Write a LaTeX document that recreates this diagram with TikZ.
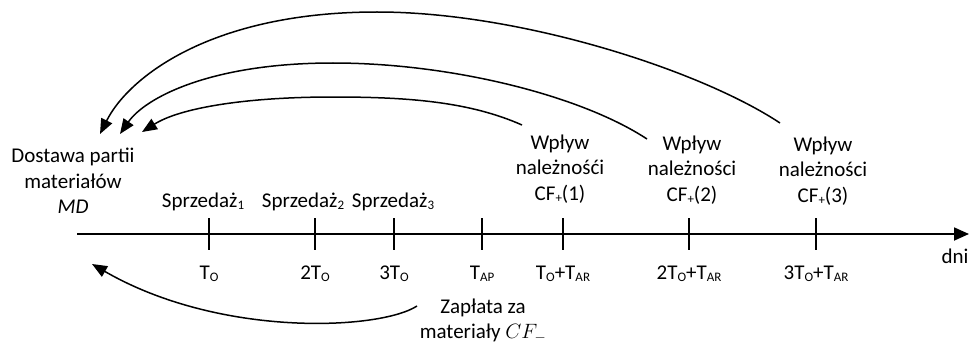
\documentclass[tikz,border=0pt]{standalone}
\usepackage{fontspec}
\setmainfont{Carlito}
\usetikzlibrary{arrows.meta}
\newcommand\lowsub[1]{\raisebox{-2.2pt}{\fontsize{13}{13}\selectfont #1}}
\begin{document}
\begin{tikzpicture}[x=1pt,y=-1pt,
  lbl/.style={inner sep=0pt,align=center,font=\fontsize{21}{25.5}\selectfont},
  arc/.style={line width=1.5pt,-{Triangle[length=15pt,width=12pt]}},
  tick/.style={line width=1.6pt}]
\useasboundingbox (0,0) rectangle (972,345);
% axis
\coordinate (ax0) at (77,234);
\coordinate (ax1) at (969,234);
\draw[line width=1.8pt,-{Triangle[length=15pt,width=13pt]}] (ax0) -- (ax1);
% ticks
\foreach \n/\x in {t1/209,t2/315,t3/394,tap/482,r1/563,r2/689,r3/816}{
  \coordinate (\n a) at (\x,218);
  \coordinate (\n b) at (\x,250);
  \draw[tick] (\n a) -- (\n b);
}
% tick labels
\node[lbl,anchor=base] (lt1) at (209,279) {T\lowsub{O}};
\node[lbl,anchor=base] (lt2) at (315,279) {2T\lowsub{O}};
\node[lbl,anchor=base] (lt3) at (394,279) {3T\lowsub{O}};
\node[lbl,anchor=base] (ltap) at (482,279) {T\lowsub{AP}};
\node[lbl,anchor=base] (lr1) at (563,279) {T\lowsub{O}+T\lowsub{AR}};
\node[lbl,anchor=base] (lr2) at (689,279) {2T\lowsub{O}+T\lowsub{AR}};
\node[lbl,anchor=base] (lr3) at (816,279) {3T\lowsub{O}+T\lowsub{AR}};
\node[lbl,anchor=base] (dni) at (955,263) {dni};
% sales
\node[lbl,anchor=base] (s1) at (203,207) {Sprzedaż\lowsub{1}};
\node[lbl,anchor=base] (s2) at (303,207) {Sprzedaż\lowsub{2}};
\node[lbl,anchor=base] (s3) at (393,207) {Sprzedaż\lowsub{3}};
% delivery
\node[lbl] (md) at (73,181) {Dostawa partii\\materiałów\\\textit{MD}};
% inflows
\node[lbl] (w1) at (560,169) {Wpływ\\należnośći\\CF\lowsub{+}(1)};
\node[lbl] (w2) at (692,170) {Wpływ\\należności\\CF\lowsub{+}(2)};
\node[lbl] (w3) at (823,171) {Wpływ\\należności\\CF\lowsub{+}(3)};
% payment
\node[lbl] (zap) at (483,321) {Zapłata za\\materiały $CF_{-}$};
% arc endpoints
\coordinate (e3) at (780,123);
\coordinate (e2) at (647,139);
\coordinate (e1) at (522,125);
\coordinate (m3) at (100,134);
\coordinate (m2) at (120,134);
\coordinate (m1) at (142,132);
\coordinate (ez) at (417,306);
\coordinate (mz) at (92,264);
\draw[arc] (e3) .. controls (700,70) and (520,12) .. (377,12)
                .. controls (210,12) and (128,78) .. (m3);
\draw[arc] (e2) .. controls (580,95) and (450,63) .. (333,63)
                .. controls (210,63) and (145,98) .. (m2);
\draw[arc] (e1) .. controls (470,102) and (410,97) .. (333,97)
                .. controls (245,97) and (180,108) .. (m1);
\draw[arc] (ez) .. controls (380,330) and (220,338) .. (mz);
\end{tikzpicture}
\end{document}
